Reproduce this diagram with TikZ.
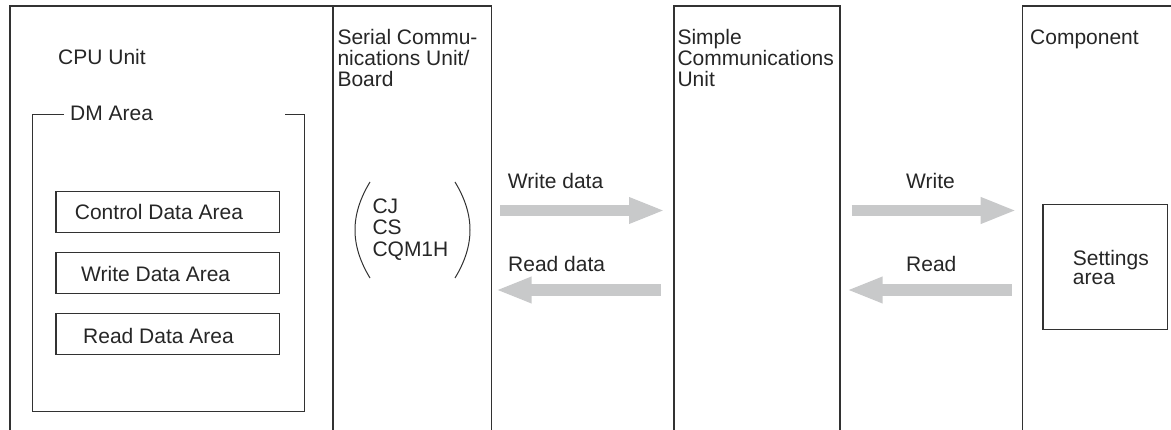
\documentclass[tikz,border=0pt]{standalone}
\usepackage{fontspec}
\setmainfont{Liberation Sans}
\usetikzlibrary{arrows.meta}
\definecolor{arrowgray}{RGB}{200,201,202}
\definecolor{linecol}{RGB}{50,50,50}
\begin{document}
\begin{tikzpicture}[x=1pt,y=-1pt,
  frame/.style={draw=linecol,line width=1.2pt},
  lbl/.style={anchor=base west,inner sep=0pt,font=\fontsize{21}{21}\selectfont,text=black!85,align=left},
  areabox/.style={frame,anchor=north west,inner sep=0pt,minimum width=223.7pt,minimum height=40.7pt},
  bigarrow/.style={draw=arrowgray,line width=11.5pt,-{Triangle[length=36pt,width=24pt]}}]
\useasboundingbox (0,0) rectangle (1171,430);
% columns
\draw[frame] (10,430) -- (10,6) -- (491.7,6) -- (491.7,430);
\draw[frame,line width=1.8pt] (333,6) -- (333,430);
\draw[frame] (674,430) -- (674,6) -- (840,6) -- (840,430);
\draw[frame] (1022.7,430) -- (1022.7,6) -- (1171,6);
% column titles
\node[lbl] (cpu) at (58,64.5) {CPU Unit};
\node[lbl] (scu1) at (337.3,45) {Serial Commu-};
\node[lbl] (scu2) at (337.3,65.7) {nications Unit/};
\node[lbl] (scu3) at (337.3,86.3) {Board};
\node[lbl] (sim1) at (677.3,45) {Simple};
\node[lbl] (sim2) at (677.3,65.7) {Communications};
\node[lbl] (sim3) at (677.3,86.3) {Unit};
\node[lbl] (comp) at (1030,45) {Component};
% DM area
\draw[frame] (64,114.3) -- (32.3,114.3) -- (32.3,411.7) -- (304.7,411.7) -- (304.7,114.3) -- (285,114.3);
\node[lbl] (dm) at (70,120.5) {DM Area};
\node[areabox] (ctrl) at (55.3,191) {};
\node[areabox] (wrt) at (55.3,252.3) {};
\node[areabox] (rd) at (55.3,313.3) {};
\node[lbl] (ctrlt) at (74.7,219.3) {Control Data Area};
\node[lbl] (wrtt) at (81,282) {Write Data Area};
\node[lbl] (rdt) at (83,344) {Read Data Area};
% CJ CS CQM1H
\draw[linecol,line width=1pt] (370,182) .. controls (350,215) and (350,245) .. (370,278);
\draw[linecol,line width=1pt] (455,182) .. controls (475,215) and (475,245) .. (455,278);
\node[lbl] (cj) at (372.3,213.5) {CJ};
\node[lbl] (cs) at (372.3,235) {CS};
\node[lbl] (cqm) at (372.3,256.7) {CQM1H};
% settings area
\node[frame,anchor=north west,inner sep=0pt,minimum width=124.4pt,minimum height=125.3pt] (set) at (1042.3,203.7) {};
\node[lbl] (set1) at (1072.7,265.5) {Settings};
\node[lbl] (set2) at (1072.7,285) {area};
% arrow labels
\node[lbl] (wd) at (507.7,189) {Write data};
\node[lbl] (rdd) at (508,271.7) {Read data};
\node[lbl] (w) at (906,189) {Write};
\node[lbl] (r) at (906,271.7) {Read};
% arrows
\coordinate (wa1) at (500,210.5);
\coordinate (wa2) at (665,210.5);
\coordinate (ra1) at (660.7,290);
\coordinate (ra2) at (495.7,290);
\coordinate (wb1) at (851.7,210.5);
\coordinate (wb2) at (1016.7,210.5);
\coordinate (rb1) at (1011.7,290);
\coordinate (rb2) at (846.7,290);
\draw[bigarrow] (wa1) -- (wa2);
\draw[bigarrow] (ra1) -- (ra2);
\draw[bigarrow] (wb1) -- (wb2);
\draw[bigarrow] (rb1) -- (rb2);
\end{tikzpicture}
\end{document}
